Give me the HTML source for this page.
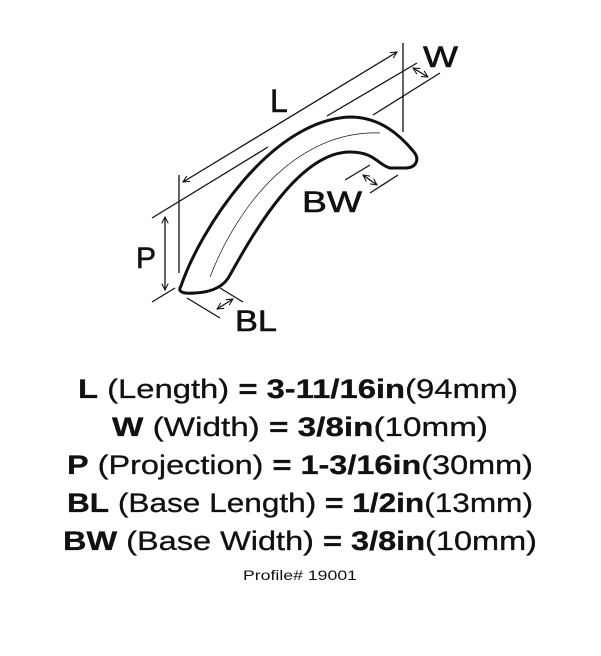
<!DOCTYPE html>
<html><head><meta charset="utf-8"><style>
html,body{margin:0;padding:0;background:#fff;}
svg{display:block;}
text{font-family:"Liberation Sans",sans-serif;fill:#111;}
.lb{stroke:#111;stroke-width:0.6;}
.t{stroke:#111;stroke-width:0.3;}
</style></head><body>
<svg width="601" height="656" viewBox="0 0 601 656" xmlns="http://www.w3.org/2000/svg">
<defs>
<marker id="a" viewBox="0 0 10 10" refX="9" refY="5" markerWidth="8" markerHeight="8" orient="auto-start-reverse" markerUnits="userSpaceOnUse">
<path d="M1,1 L9,5 L1,9" fill="none" stroke="#111" stroke-width="1.3"/>
</marker>
</defs>
<g stroke="#111" fill="none" stroke-width="1.3">
<path d="M181,286 C200,230 270,120 350,117 C380,117 400,135 414,152 C420,160 416,168 405,168 L390,168 C378,165 375,152 350,152 C300,152 255,230 230,275 C225,285 215,292 195,293 C183,294 177,292 181,286 Z" stroke-width="3"/>
<path d="M210,277 C240,200 300,130 380,133" stroke-width="0.7"/>
<line x1="183" y1="182" x2="397" y2="52" marker-start="url(#a)" marker-end="url(#a)"/>
<line x1="179" y1="175" x2="179" y2="273"/>
<line x1="403" y1="43" x2="403" y2="132"/>
<line x1="152" y1="218" x2="268" y2="147"/>
<line x1="327" y1="116" x2="417" y2="63"/>
<line x1="373" y1="115" x2="440" y2="73"/>
<line x1="413" y1="68" x2="428" y2="77" marker-start="url(#a)" marker-end="url(#a)"/>
<line x1="165" y1="217" x2="165" y2="290" marker-start="url(#a)" marker-end="url(#a)"/>
<line x1="152" y1="302" x2="175" y2="288"/>
<line x1="187" y1="298" x2="220" y2="318"/>
<line x1="220" y1="288" x2="243" y2="302"/>
<line x1="217" y1="309" x2="233" y2="299" marker-start="url(#a)" marker-end="url(#a)"/>
<line x1="345" y1="180" x2="370" y2="165"/>
<line x1="370" y1="193" x2="398" y2="175"/>
<line x1="363" y1="175" x2="377" y2="185" marker-start="url(#a)" marker-end="url(#a)"/>
</g>
<text class="lb" x="270" y="112" font-size="32">L</text>
<text class="lb" x="423" y="67" font-size="30" textLength="35" lengthAdjust="spacingAndGlyphs">W</text>
<text class="lb" x="136" y="268" font-size="30">P</text>
<text class="lb" x="302" y="212" font-size="30" textLength="60" lengthAdjust="spacingAndGlyphs">BW</text>
<text class="lb" x="235" y="331" font-size="30" textLength="42" lengthAdjust="spacingAndGlyphs">BL</text>

<text class="t" x="78" y="398" font-size="27" textLength="440" lengthAdjust="spacingAndGlyphs"><tspan font-weight="bold">L</tspan> (Length) <tspan font-weight="bold">= 3-11/16in</tspan>(94mm)</text>
<text class="t" x="112" y="436" font-size="27" textLength="376" lengthAdjust="spacingAndGlyphs"><tspan font-weight="bold">W</tspan> (Width) <tspan font-weight="bold">= 3/8in</tspan>(10mm)</text>
<text class="t" x="67" y="474" font-size="27" textLength="466" lengthAdjust="spacingAndGlyphs"><tspan font-weight="bold">P</tspan> (Projection) <tspan font-weight="bold">= 1-3/16in</tspan>(30mm)</text>
<text class="t" x="67" y="512" font-size="27" textLength="466" lengthAdjust="spacingAndGlyphs"><tspan font-weight="bold">BL</tspan> (Base Length) <tspan font-weight="bold">= 1/2in</tspan>(13mm)</text>
<text class="t" x="63" y="550" font-size="27" textLength="474" lengthAdjust="spacingAndGlyphs"><tspan font-weight="bold">BW</tspan> (Base Width) <tspan font-weight="bold">= 3/8in</tspan>(10mm)</text>
<text x="243" y="580" font-size="14" textLength="114" lengthAdjust="spacingAndGlyphs">Profile# 19001</text>
</svg>
</body></html>
